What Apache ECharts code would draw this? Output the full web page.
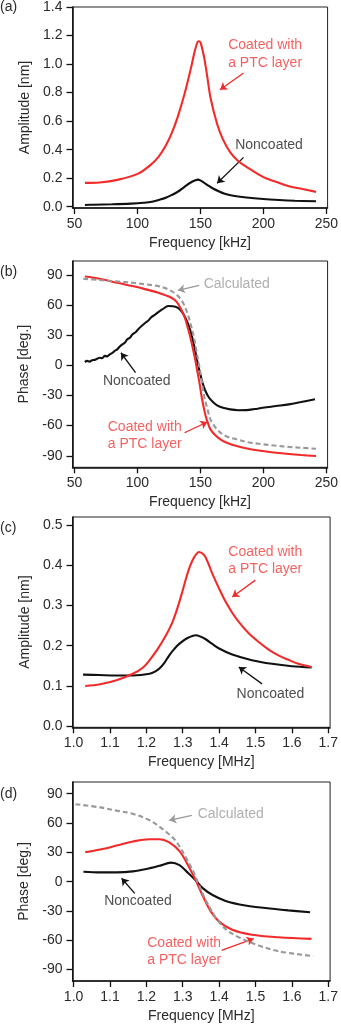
<!DOCTYPE html>
<html><head><meta charset="utf-8">
<script src="https://cdn.jsdelivr.net/npm/echarts@6/dist/echarts.min.js"></script>
<style>html,body{margin:0;padding:0;background:#fff}#c{width:341px;height:1024px}</style>
</head><body><div id="c"></div>
<script>
// ---------- DATA ----------
// (a) Amplitude vs frequency [kHz]
const aCoatedFreq = [58.3,70,85,100.6,110,116.6,122,127,132,137.4,142.6,145.5,147.8,149,150.5,153,155.5,158,163.3,168,173.6,180,186.6,199.6,210,220.3,232,241.8];
const aCoatedAmp  = [0.167,0.170,0.19,0.232,0.29,0.348,0.42,0.51,0.63,0.79,0.975,1.09,1.156,1.16,1.14,1.045,0.91,0.766,0.58,0.47,0.383,0.32,0.279,0.209,0.175,0.144,0.122,0.104];
const aNonFreq = [58.3,65,80,95,105,111.5,118,123,127,132,137.4,142,146,148,150,153,155.7,160,168.7,175,186.6,200,212.6,225,241.8];
const aNonAmp  = [0.012,0.014,0.017,0.022,0.028,0.035,0.05,0.065,0.081,0.105,0.139,0.168,0.185,0.19,0.185,0.168,0.151,0.128,0.093,0.079,0.065,0.054,0.047,0.042,0.038];
// (b) Phase vs frequency [kHz]
const bCoatedFreq = [58.3,70,85,96,106,116.6,122,127,131,134.8,137.5,140,142,143.9,146,147.8,149.5,150.9,152.5,154.2,156,158,161.5,165.9,171,178.8,188,199.6,210,220.3,230,241.8];
const bCoatedPh   = [88.5,86.3,82,79,76,72.4,70,67.4,63.5,55.8,48,37.5,28,17.6,5,-7.3,-19,-30.5,-41,-50.4,-57.5,-63.7,-69,-73.6,-77,-80.3,-83,-85.3,-87,-88.3,-89.3,-90.3];
const bCalcFreq = [57,70,85,96,106,116.6,122,127,130.5,133.5,137,140,142.7,145.2,147.2,149.1,151,153,155.5,158,161.5,165.9,171,178.8,188,199.6,210,220.3,230,241.8];
const bCalcPh   = [86.3,85,83.5,82.3,80.8,79,77,74,71,67.4,60.5,50.9,39,25.9,12,-0.6,-15,-30.5,-43,-53.7,-61,-67,-70.8,-73.6,-76.5,-78.6,-80,-81.2,-82,-83];
const bNonFreq = [58.3,60,62,64,66,68,70,72,74,76,78,80.3,82,84,86,88,90,92,94,96,98.5,101,103.5,106.3,108.5,111,114,116.6,120,124.5,128,132.2,135.5,138.7,141.5,143.9,146,147.8,149.8,151.7,154,156.9,160,163.3,168,173.6,180,186.6,193,199.6,210,220.3,230,241];
const bNonPh   = [3.3,4.5,3.8,5.2,5.5,6.6,7.6,7.2,9.5,9.0,11,12.6,14.5,16,18.8,21,22.5,26,27.5,30.9,33,36.5,39.5,42.5,44.5,48,50.5,53.1,56,59.1,59,57.4,53,45.9,37,25.9,14,2.6,-8,-17.3,-25.5,-32.2,-36.5,-39.8,-42.3,-43.8,-44.6,-44.5,-43.5,-42.2,-40.5,-38.8,-36.5,-33.8];
// (c) Amplitude vs frequency [MHz]
const cCoatedFreq = [1.032,1.073,1.118,1.163,1.19,1.209,1.23,1.254,1.27,1.282,1.296,1.309,1.32,1.332,1.345,1.359,1.37,1.381,1.4,1.418,1.436,1.454,1.48,1.509,1.535,1.563,1.59,1.618,1.654];
const cCoatedAmp  = [0.0997,0.104,0.114,0.13,0.145,0.164,0.19,0.226,0.255,0.284,0.325,0.367,0.398,0.421,0.433,0.425,0.405,0.38,0.342,0.309,0.282,0.259,0.232,0.209,0.191,0.176,0.165,0.155,0.147];
const cNonFreq = [1.026,1.07,1.118,1.163,1.209,1.225,1.236,1.25,1.263,1.277,1.291,1.313,1.336,1.35,1.363,1.38,1.4,1.436,1.49,1.545,1.6,1.654];
const cNonAmp  = [0.128,0.127,0.126,0.126,0.130,0.136,0.143,0.158,0.176,0.192,0.205,0.219,0.226,0.222,0.216,0.205,0.193,0.178,0.164,0.155,0.149,0.146];
// (d) Phase vs frequency [MHz]
const dCalcFreq = [1.005,1.073,1.118,1.163,1.209,1.254,1.282,1.309,1.332,1.345,1.363,1.391,1.418,1.454,1.509,1.563,1.659];
const dCalcPh   = [79.3,76,72.7,69.4,62.8,51.1,41.1,24.5,7.9,-3.7,-18.7,-37,-48.6,-56.9,-65.3,-71.2,-76.2];
const dCoatedFreq = [1.032,1.073,1.118,1.163,1.209,1.236,1.263,1.291,1.313,1.336,1.354,1.377,1.4,1.436,1.49,1.563,1.654];
const dCoatedPh   = [30.2,32.9,36.9,41.1,43.4,43.4,40.1,31.2,17.9,1.2,-13.7,-30.4,-40.9,-49.3,-54.3,-56.9,-58.6];
const dNonFreq = [1.027,1.073,1.118,1.163,1.2,1.236,1.268,1.291,1.313,1.336,1.354,1.382,1.418,1.472,1.527,1.59,1.65];
const dNonPh   = [10.2,9.5,9.5,10.5,12.9,16.2,19.5,16.9,9.5,1.2,-6.4,-13.7,-19.7,-24.4,-27,-29.4,-31.4];
// tick labels
const ampTicksA = [0,0.2,0.4,0.6,0.8,1.0,1.2,1.4];
const ampTicksC = [0,0.1,0.2,0.3,0.4,0.5];
const phaseTicks = [-90,-60,-30,0,30,60,90];
const kHzTicks = [50,100,150,200,250];
const MHzTicks = [1.0,1.1,1.2,1.3,1.4,1.5,1.6,1.7];
const panelLabels = ['(a)','(b)','(c)','(d)'];
// annotations [panel, text, x, y, colour] and arrows [panel, x1,y1, x2,y2, colour] in data units
const annText = [
  [0,'Coated with\na PTC layer',201.4,1.07,'red'],[0,'Noncoated',204.5,0.43,'black'],
  [1,'Calculated',178.9,80.7,'gray'],[1,'Noncoated',99.5,-15.6,'black'],[1,'Coated with\na PTC layer',105.8,-70.1,'red'],
  [2,'Coated with\na PTC layer',1.527,0.412,'red'],[2,'Noncoated',1.541,0.080,'black'],
  [3,'Calculated',1.432,69.4,'gray'],[3,'Noncoated',1.177,-20.4,'black'],[3,'Coated with\na PTC layer',1.304,-71.5,'red']
];
const annArrows = [
  [0,184.3,0.938,165.6,0.82,'red'],[0,184.3,0.346,163.3,0.165,'black'],
  [1,149.1,79.7,132.2,74.8,'gray'],[1,98.5,-7.3,86.9,12.6,'black'],[1,137.4,-67.1,155.5,-56.4,'red'],
  [2,1.4997,0.363,1.436,0.321,'red'],[2,1.518,0.105,1.454,0.147,'black'],
  [3,1.325,67.8,1.263,62.8,'gray'],[3,1.168,-12,1.132,3.5,'black'],[3,1.407,-70.3,1.495,-58.4,'red']
];

// ---------- STYLE / LAYOUT ----------
const COL = {red:'#f22a2a', black:'#111', gray:'#999'};
const TXT = {red:'#f03a3a', black:'#222', gray:'#9a9a9a'};
const FONT = 'Liberation Sans, Arial, sans-serif';
const grids = [
  {left:72.5, right:8.5, top:5.5, height:202.5},
  {left:72.5, right:8.5, top:261, height:206.3},
  {left:72.5, right:9, top:517, height:210.3},
  {left:72.5, right:9, top:782, height:204}
];
const xRanges = [[48.45,251],[48.45,251],[0.997,1.705],[0.997,1.705]];
const yRanges = [[-0.009,1.4],[-101.5,104],[-0.003,0.52],[-101.7,102]];
const xTicks = [kHzTicks,kHzTicks,MHzTicks,MHzTicks];
const yTicks = [ampTicksA,phaseTicks,ampTicksC,phaseTicks];
const xNames = ['Frequency [kHz]','Frequency [kHz]','Frequency [MHz]','Frequency [MHz]'];
const yNames = ['Amplitude [nm]','Phase [deg.]','Amplitude [nm]','Phase [deg.]'];
const xFmt = [v=>String(Math.round(v)),v=>String(Math.round(v)),v=>v.toFixed(1),v=>v.toFixed(1)];
const yFmt = [v=>v.toFixed(1),v=>String(Math.round(v)),v=>v.toFixed(1),v=>String(Math.round(v))];

const xAxis = [], yAxis = [];
for (let i=0;i<4;i++){
  xAxis.push({type:'value', gridIndex:i, min:xRanges[i][0], max:xRanges[i][1],
    name:xNames[i], nameLocation:'middle', nameGap:28,
    nameTextStyle:{fontFamily:FONT,fontSize:14,color:'#2a2a2a'},
    axisLine:{show:true,onZero:false,lineStyle:{color:'#111',width:1.5}},
    axisTick:{show:true,length:6,lineStyle:{color:'#111',width:1.3},customValues:xTicks[i]},
    axisLabel:{show:true,margin:9,fontFamily:FONT,fontSize:14,color:'#2a2a2a',customValues:xTicks[i],formatter:xFmt[i]},
    splitLine:{show:false}});
  yAxis.push({type:'value', gridIndex:i, min:yRanges[i][0], max:yRanges[i][1],
    name:yNames[i], nameLocation:'middle', nameGap:33,
    nameTextStyle:{fontFamily:FONT,fontSize:14,color:'#2a2a2a'},
    axisLine:{show:true,onZero:false,lineStyle:{color:'#111',width:1.5}},
    axisTick:{show:true,length:6,lineStyle:{color:'#111',width:1.3},customValues:yTicks[i]},
    axisLabel:{show:true,margin:10,fontFamily:FONT,fontSize:14,color:'#2a2a2a',customValues:yTicks[i],formatter:yFmt[i]},
    splitLine:{show:false}});
}
const zip = (xs,ys)=>xs.map((x,k)=>[x,ys[k]]);
const series = [];
function line(i,xs,ys,color,dashed){
  series.push({type:'line', xAxisIndex:i, yAxisIndex:i, data:zip(xs,ys), showSymbol:false, smooth:0.35,
    lineStyle:{color:color,width:2.1,type:dashed?[5,3]:'solid'}, silent:true, z:dashed?3:2});
}
line(0,aCoatedFreq,aCoatedAmp,COL.red);
line(0,aNonFreq,aNonAmp,COL.black);
line(1,bCalcFreq,bCalcPh,COL.gray,true);
line(1,bNonFreq,bNonPh,COL.black);
line(1,bCoatedFreq,bCoatedPh,COL.red);
line(2,cNonFreq,cNonAmp,COL.black);
line(2,cCoatedFreq,cCoatedAmp,COL.red);
line(3,dCalcFreq,dCalcPh,COL.gray,true);
line(3,dNonFreq,dNonPh,COL.black);
line(3,dCoatedFreq,dCoatedPh,COL.red);
annText.forEach(a=>{
  series.push({type:'scatter', xAxisIndex:a[0], yAxisIndex:a[0], symbolSize:1, silent:true,
    itemStyle:{color:'rgba(0,0,0,0)'}, data:[[a[2],a[3]]],
    label:{show:true, position:'inside', formatter:a[1], color:TXT[a[4]], fontFamily:FONT, fontSize:14, lineHeight:17.5, align:'center', verticalAlign:'middle'}});
});
annArrows.forEach(a=>{
  series.push({type:'lines', coordinateSystem:'cartesian2d', xAxisIndex:a[0], yAxisIndex:a[0], silent:true,
    symbol:['none','arrow'], symbolSize:7,
    lineStyle:{color:COL[a[5]],width:1.3,opacity:1},
    data:[{coords:[[a[1],a[2]],[a[3],a[4]]]}]});
});
const graphic = panelLabels.map((t,i)=>({type:'text', left:0, top:[0,265,521,787][i],
  style:{text:t, fontFamily:FONT, fontSize:14, fill:'#2a2a2a'}}));

const chart = echarts.init(document.getElementById('c'), null, {renderer:'canvas'});
chart.setOption({
  animation:false, backgroundColor:'#fff',
  grid: grids.map(g=>Object.assign({show:true,borderColor:'#222',borderWidth:1,backgroundColor:'transparent'},g)),
  xAxis, yAxis, series, graphic
});
</script></body></html>
